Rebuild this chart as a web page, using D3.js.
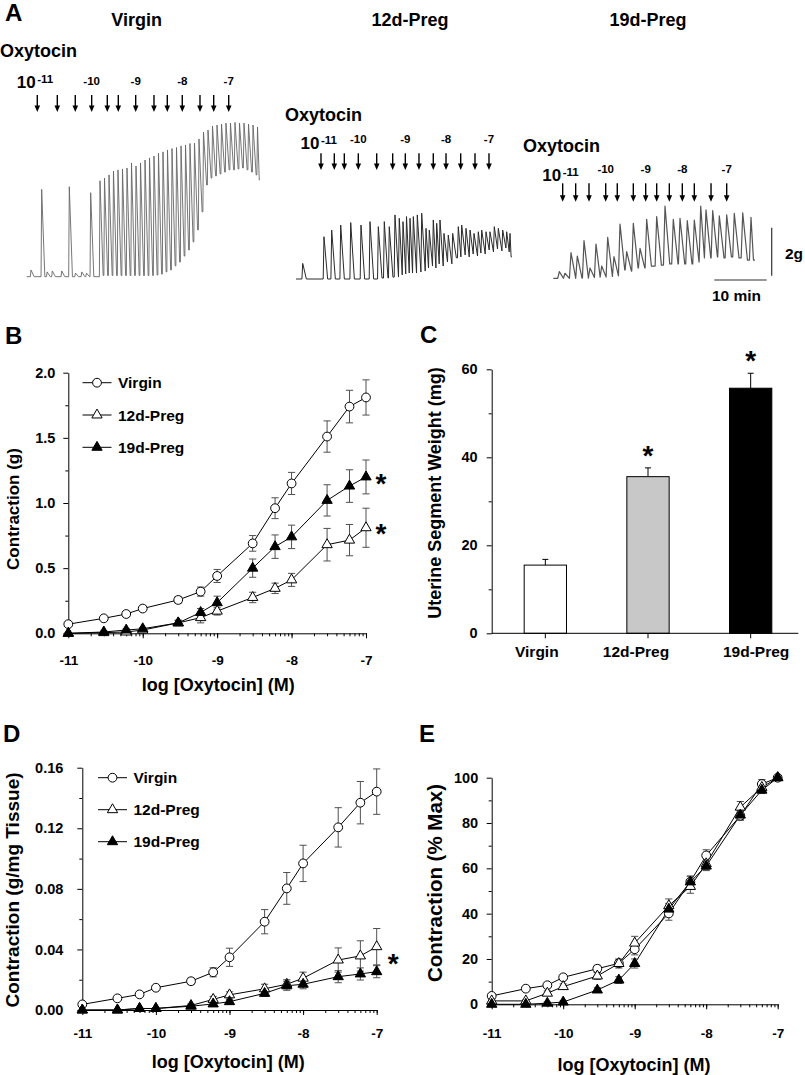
<!DOCTYPE html>
<html><head><meta charset="utf-8">
<script src="https://cdn.jsdelivr.net/npm/d3@7"></script>
<style>
body{margin:0;background:#fff}
text{font-family:"Liberation Sans",Arial,Helvetica,sans-serif;font-weight:bold}
</style>
</head><body>
<svg id="fig" width="805" height="1075" xmlns="http://www.w3.org/2000/svg"></svg>
<script>
// ================= DATA =================
// Oxytocin concentrations (M)
const concentrations = [1e-11, 3e-11, 6e-11, 1e-10, 3e-10, 6e-10, 1e-9, 3e-9, 6e-9, 1e-8, 3e-8, 6e-8, 1e-7];
const xMajorTicks = [1e-11, 1e-10, 1e-9, 1e-8, 1e-7];
const xTickLabels = ["-11", "-10", "-9", "-8", "-7"];
const seriesNames = ["Virgin", "12d-Preg", "19d-Preg"];

// Panel B: contraction (g)
const bVirgin    = [0.07, 0.115, 0.148, 0.19, 0.256, 0.32, 0.44, 0.69, 0.96, 1.15, 1.51, 1.74, 1.81];
const bVirginErr = [0.01, 0.015, 0.02, 0.02, 0.025, 0.035, 0.05, 0.06, 0.08, 0.085, 0.12, 0.125, 0.135];
const b12d       = [0.0, 0.005, 0.01, 0.025, 0.08, 0.12, 0.17, 0.275, 0.345, 0.41, 0.68, 0.715, 0.81];
const b12dErr    = [0.005, 0.005, 0.01, 0.01, 0.02, 0.04, 0.03, 0.04, 0.04, 0.05, 0.125, 0.12, 0.15];
const b19d       = [0.0, 0.01, 0.025, 0.035, 0.08, 0.16, 0.235, 0.50, 0.665, 0.74, 1.02, 1.13, 1.20];
const b19dErr    = [0.005, 0.01, 0.01, 0.01, 0.02, 0.03, 0.05, 0.07, 0.09, 0.09, 0.12, 0.125, 0.13];
const bYTicks = [0, 0.5, 1.0, 1.5, 2.0];
const bYTickLabels = ["0.0", "0.5", "1.0", "1.5", "2.0"];
const bYMinor = [0.25, 0.75, 1.25, 1.75];

// Panel C: uterine segment weight (mg)
const cCategories = ["Virgin", "12d-Preg", "19d-Preg"];
const cWeights = [15.5, 35.6, 55.7];
const cWeightErr = [1.3, 2.0, 3.4];
const cYTicks = [0, 20, 40, 60];
const cYTickLabels = ["0", "20", "40", "60"];
const cYMinor = [10, 30, 50];
const cSignificant = [false, true, true];

// Panel D: contraction (g/mg tissue)
const dVirgin    = [0.0037, 0.0077, 0.0103, 0.0147, 0.019, 0.0249, 0.0348, 0.0583, 0.0803, 0.0968, 0.1206, 0.1369, 0.1442];
const dVirginErr = [0.001, 0.001, 0.0015, 0.0015, 0.002, 0.003, 0.006, 0.008, 0.0105, 0.012, 0.013, 0.014, 0.015];
const d12d       = [0.0, 0.0, 0.001, 0.001, 0.003, 0.007, 0.010, 0.014, 0.017, 0.021, 0.033, 0.0357, 0.0418];
const d12dErr    = [0, 0, 0.0005, 0.0005, 0.001, 0.002, 0.002, 0.003, 0.003, 0.004, 0.008, 0.010, 0.012];
const d19d       = [0, 0, 0.001, 0.001, 0.0025, 0.004, 0.0055, 0.011, 0.016, 0.017, 0.022, 0.0238, 0.0253];
const d19dErr    = [0, 0, 0.0005, 0.0005, 0.001, 0.001, 0.0015, 0.002, 0.003, 0.003, 0.004, 0.004, 0.004];
const dYTicks = [0, 0.04, 0.08, 0.12, 0.16];
const dYTickLabels = ["0.00", "0.04", "0.08", "0.12", "0.16"];
const dYMinor = [0.02, 0.06, 0.10, 0.14];

// Panel E: contraction (% max)
const eVirgin    = [3.7, 6.9, 8.4, 11.9, 15.7, 18.1, 24.3, 40.1, 54.1, 65.7, 83.2, 97.2, 100];
const eVirginErr = [0.8, 1, 1, 1.2, 1.5, 1.5, 2.5, 3, 2.5, 2.5, 2, 2, 0];
const e12d       = [1.5, 1.5, 4.9, 7.8, 12.5, 18, 27, 43.5, 52, 62, 87, 95.7, 100];
const e12dErr    = [0.5, 0.5, 1, 1.2, 1.5, 2, 3, 3, 3, 2.5, 2.5, 2, 0];
const e19d       = [0, 0, 0.5, 1, 6.3, 10.7, 18, 42, 54, 61, 83.5, 94.5, 100];
const e19dErr    = [0, 0, 0.5, 0.5, 1, 1.5, 2, 2.5, 2.5, 2, 2, 1.5, 0];
const eYTicks = [0, 20, 40, 60, 80, 100];
const eYTickLabels = ["0", "20", "40", "60", "80", "100"];
const eYMinor = [10, 30, 50, 70, 90];

// Panel A: recordings. times (min from trace start), peak tension (g), trough tension (g)
const virginT    = [0.82, 2.86, 3.9, 4.89, 6.68, 8.13, 9.3, 10.5, 11.4, 12.21, 13.99, 14.85, 15.71, 16.56, 17.42, 18.28, 19.14, 20.0, 20.86, 21.72, 22.58, 23.44, 24.29, 25.15, 26.01, 26.87, 27.73, 28.59, 29.45, 30.31, 31.16, 32.02, 32.88, 33.74, 34.6, 35.46, 36.32, 37.18, 38.03, 38.89, 39.75, 40.61, 41.47, 42.33, 43.19, 44.05];
const virginPeak = [0.28, 3.64, 0.2, 0.24, 0.24, 3.75, 0.15, 0.2, 0.15, 3.5, 4.0, 4.11, 4.24, 4.4, 4.45, 4.49, 4.53, 4.74, 4.61, 4.74, 4.86, 4.95, 5.03, 5.15, 5.2, 5.28, 5.34, 5.38, 5.45, 5.49, 5.55, 5.57, 5.74, 6.03, 6.11, 6.28, 6.32, 6.36, 6.4, 6.4, 6.43, 6.4, 6.4, 6.36, 6.32, 6.24];
const virginBase = [0, 0, 0, 0, 0, 0, 0, 0, 0, 0, 0.05, 0.05, 0.05, 0.05, 0.05, 0.05, 0.05, 0.05, 0.05, 0.05, 0.05, 0.05, 0.07, 0.11, 0.2, 0.28, 0.45, 0.61, 0.86, 1.11, 1.45, 1.95, 2.7, 3.82, 4.11, 4.2, 4.28, 4.36, 4.45, 4.45, 4.49, 4.53, 4.45, 4.36, 4.24, 4.03];
const virginEnd = 44.5;
const virginArrows = [2.02, 5.84, 9.27, 12.4, 15.38, 17.48, 20.8, 24.29, 26.83, 29.69, 33.07, 35.69, 38.55];

const preg12T    = [1.28, 5.34, 6.81, 8.53, 10.44, 12.4, 14.12, 15.71, 16.85, 17.8, 18.89, 19.71, 20.42, 21.09, 21.76, 22.39, 23.15, 23.99, 24.81, 25.44, 26.2, 26.85, 27.48, 28.24, 29.06, 29.9, 30.97, 31.62, 32.44, 33.21, 33.97, 34.79, 35.44, 36.26, 37.02, 37.84, 38.61, 39.45, 40.21, 40.84];
const preg12Peak = [0.65, 1.76, 2.04, 2.25, 2.35, 2.25, 2.39, 2.18, 2.39, 2.18, 2.67, 2.53, 2.39, 2.6, 2.53, 2.6, 2.67, 2.74, 2.11, 2.04, 2.46, 2.32, 2.46, 1.9, 1.83, 1.9, 2.18, 2.25, 2.11, 2.04, 1.9, 1.97, 2.04, 1.97, 1.97, 2.18, 2.11, 2.04, 1.97, 1.9];
const preg12Base = [0, 0, 0, 0, 0, 0, 0, 0.04, 0.04, 0.08, 0.08, 0.17, 0.21, 0.25, 0.25, 0.25, 0.29, 0.33, 0.46, 0.54, 0.46, 0.63, 0.54, 0.71, 0.63, 0.88, 0.92, 1.0, 0.92, 1.04, 0.96, 1.08, 1.04, 1.21, 1.13, 1.25, 1.17, 1.29, 1.13, 0.92];
const preg12End = 41.2;
const preg12Arrows = [4.77, 7.31, 9.22, 11.89, 15.4, 18.45, 20.86, 23.47, 26.2, 28.63, 31.43, 34.16, 36.83];

const preg19T    = [1.15, 2.23, 3.38, 4.58, 5.86, 7.0, 8.15, 9.24, 10.38, 11.58, 12.73, 14.01, 15.27, 16.55, 17.82, 19.73, 21.32, 22.9, 24.18, 25.57, 26.91, 28.13, 29.14, 30.42, 31.68, 33.09, 34.54, 36.15, 37.73];
const preg19Peak = [0.28, 0.21, 1.07, 0.93, 1.57, 0.43, 1.43, 0.51, 1.71, 0.9, 2.26, 1.11, 2.29, 1.25, 2.46, 2.57, 3.01, 2.46, 2.5, 2.4, 2.43, 3.01, 2.85, 2.82, 2.6, 2.64, 2.71, 2.73, 2.54];
const preg19Base = [0, 0, 0, 0.01, 0.01, 0.03, 0.05, 0.05, 0.08, 0.1, 0.35, 0.3, 0.43, 0.43, 0.51, 0.55, 0.6, 0.6, 0.6, 0.6, 0.68, 0.85, 0.85, 0.89, 0.85, 0.89, 0.85, 0.76, 0.76];
const preg19End = 38.5;
const preg19Arrows = [1.79, 4.27, 6.81, 10.0, 12.21, 15.27, 17.63, 19.73, 22.14, 24.62, 26.91, 30.1, 33.09];

const doseLabels = ["-10", "-9", "-8", "-7"];
const doseLabelArrowIndex = [3, 6, 9, 12];
const scaleBarGrams = 2;
const scaleBarMinutes = 10;

// ================= DRAWING =================
const svg = d3.select("#fig");
const FONT = '"Liberation Sans", Arial, Helvetica, sans-serif';
const markerTypes = ["circle", "triOpen", "triFill"];

function txt(x, y, s, size, anchor) {
  return svg.append("text").attr("x", x).attr("y", y).attr("font-size", size)
    .attr("font-family", FONT).attr("font-weight", "bold")
    .attr("text-anchor", anchor || "start").text(s);
}
function vtxt(x, y, s, size) {
  return svg.append("text").attr("transform", `translate(${x},${y}) rotate(-90)`)
    .attr("font-size", size).attr("font-family", FONT).attr("font-weight", "bold")
    .attr("text-anchor", "middle").text(s);
}
function styleAxis(a, size) {
  a.attr("font-size", size).attr("font-family", FONT).attr("font-weight", "bold");
  a.selectAll("line,path").attr("stroke", "#000").attr("stroke-width", 1);
  a.selectAll("text").attr("fill", "#000");
}
function drawMarker(g, type, cx, cy) {
  if (type === "circle") {
    g.append("circle").attr("cx", cx).attr("cy", cy).attr("r", 4.4)
      .attr("fill", "#fff").attr("stroke", "#000").attr("stroke-width", 1);
  } else {
    g.append("path").attr("d", d3.symbol(d3.symbolTriangle, 46)())
      .attr("transform", `translate(${cx},${cy})`)
      .attr("fill", type === "triFill" ? "#000" : "#fff")
      .attr("stroke", "#000").attr("stroke-width", 1);
  }
}
function asterisk(cx, cy) {
  txt(cx, cy + 15, "*", 28, "middle");
}

// Panel letters
txt(5, 21, "A", 24);
txt(5, 344, "B", 24);
txt(420, 343, "C", 24);
txt(3, 742, "D", 24);
txt(419, 742, "E", 24);

// ---------- Panel A ----------
const PX_PER_MIN = 5.24, PX_PER_G = 24;
function drawTrace(cfg) {
  const xs = d3.scaleLinear().domain([0, 10]).range([cfg.x0, cfg.x0 + 10 * PX_PER_MIN]);
  const ys = d3.scaleLinear().domain([0, 2]).range([cfg.y0, cfg.y0 - 2 * PX_PER_G]);
  const t = cfg.t, pk = cfg.peak, bs = cfg.base;
  const pts = [[0, bs[0]]];
  for (let i = 0; i < t.length; i++) {
    const prev = i === 0 ? bs[0] : bs[i - 1];
    const next = i < t.length - 1 ? t[i + 1] : cfg.end;
    pts.push([t[i] - cfg.rise, prev]);
    pts.push([t[i], pk[i]]);
    pts.push([Math.min(t[i] + cfg.decay, next - cfg.rise), bs[i]]);
  }
  pts.push([cfg.end, bs[bs.length - 1]]);
  svg.append("path")
    .attr("d", d3.line().x(d => xs(d[0])).y(d => ys(d[1]))(pts))
    .attr("fill", "none").attr("stroke", cfg.color).attr("stroke-width", cfg.width)
    .attr("stroke-linejoin", "round");

  cfg.arrows.forEach(a => {
    const ax = xs(a);
    svg.append("line").attr("x1", ax).attr("x2", ax).attr("y1", cfg.arrowTop).attr("y2", cfg.arrowBot - 5)
      .attr("stroke", "#000").attr("stroke-width", 1.4);
    svg.append("path").attr("d", `M${ax - 2.8},${cfg.arrowBot - 6.5}L${ax + 2.8},${cfg.arrowBot - 6.5}L${ax},${cfg.arrowBot}Z`)
      .attr("fill", "#000");
  });
  const a0 = xs(cfg.arrows[0]);
  txt(a0 - 1.5, cfg.tenBase, "10", 17, "end");
  txt(a0, cfg.tenBase - 5, "-11", 11.5, "start");
  doseLabels.forEach((lab, i) => {
    txt(xs(cfg.arrows[doseLabelArrowIndex[i]]), cfg.arrowTop - 10.5, lab, 11.5, "middle");
  });
  txt(cfg.oxyX, cfg.oxyY, "Oxytocin", 18, "start");
}

txt(136.7, 25.5, "Virgin", 18, "middle");
txt(410, 25.5, "12d-Preg", 18, "middle");
txt(648, 25.5, "19d-Preg", 18, "middle");

drawTrace({t: virginT, peak: virginPeak, base: virginBase, end: virginEnd, arrows: virginArrows,
  x0: 26.7, y0: 276.7, rise: 0.12, decay: 0.6, color: "#666", width: 0.9,
  arrowTop: 95, arrowBot: 112, oxyX: 0, oxyY: 57, tenBase: 88});
drawTrace({t: preg12T, peak: preg12Peak, base: preg12Base, end: preg12End, arrows: preg12Arrows,
  x0: 296, y0: 279, rise: 0.15, decay: 0.7, color: "#2a2a2a", width: 1,
  arrowTop: 153.3, arrowBot: 170, oxyX: 285, oxyY: 120.5, tenBase: 149.3});
drawTrace({t: preg19T, peak: preg19Peak, base: preg19Base, end: preg19End, arrows: preg19Arrows,
  x0: 553.3, y0: 278.3, rise: 0.3, decay: 0.9, color: "#555", width: 1.2,
  arrowTop: 183.3, arrowBot: 201.7, oxyX: 523, oxyY: 152, tenBase: 181});

// Scale bars
const barX = 771.7, barBottom = 275.7;
svg.append("line").attr("x1", barX).attr("x2", barX)
  .attr("y1", barBottom).attr("y2", barBottom - scaleBarGrams * PX_PER_G)
  .attr("stroke", "#333").attr("stroke-width", 1.2);
const hbX0 = 714.3, hbY = 280;
svg.append("line").attr("x1", hbX0).attr("x2", hbX0 + scaleBarMinutes * PX_PER_MIN)
  .attr("y1", hbY).attr("y2", hbY).attr("stroke", "#333").attr("stroke-width", 1.2);
txt(785, 259, scaleBarGrams + "g", 15.5, "start");
txt(736.5, 301, scaleBarMinutes + " min", 15.5, "middle");

// ---------- Log dose-response panels ----------
function drawLogPanel(p) {
  const x = d3.scaleLog().domain([concentrations[0], concentrations[concentrations.length - 1]]).range([p.x0, p.x1]);
  const y = d3.scaleLinear().domain([0, p.yTicks[p.yTicks.length - 1]]).range([p.yBottom, p.yTop]);
  const g = svg.append("g");
  const ax1 = g.append("g").attr("transform", `translate(0,${p.yBottom})`)
    .call(d3.axisBottom(x).tickValues(x.ticks()).tickSize(3).tickSizeOuter(0).tickFormat(""));
  ax1.select(".domain").remove(); styleAxis(ax1, 13.5);
  const ax2 = g.append("g").attr("transform", `translate(0,${p.yBottom})`)
    .call(d3.axisBottom(x).tickValues(xMajorTicks).tickSize(5).tickSizeOuter(0)
      .tickPadding(p.xPad).tickFormat((d, i) => xTickLabels[i]));
  styleAxis(ax2, 13.5);
  const ay1 = g.append("g").attr("transform", `translate(${p.x0},0)`)
    .call(d3.axisLeft(y).tickValues(p.yMinor).tickSize(3).tickFormat(""));
  ay1.select(".domain").remove(); styleAxis(ay1, 14.5);
  const ay2 = g.append("g").attr("transform", `translate(${p.x0},0)`)
    .call(d3.axisLeft(y).tickValues(p.yTicks).tickSize(5).tickSizeOuter(0)
      .tickPadding(p.yPad).tickFormat((d, i) => p.yTickLabels[i]));
  styleAxis(ay2, 14.5);

  const line = d3.line().x((d, i) => x(concentrations[i])).y(d => y(d));
  p.series.forEach(s => {
    g.append("path").datum(s.v).attr("d", line).attr("fill", "none")
      .attr("stroke", "#000").attr("stroke-width", 1);
  });
  p.series.forEach(s => {
    s.v.forEach((v, i) => {
      const e = s.e[i]; if (!e) return;
      const cx = x(concentrations[i]);
      const eb = g.append("g").attr("stroke", "#505050").attr("stroke-width", 1);
      eb.append("line").attr("x1", cx).attr("x2", cx).attr("y1", y(v - e)).attr("y2", y(v + e));
      eb.append("line").attr("x1", cx - 3.6).attr("x2", cx + 3.6).attr("y1", y(v + e)).attr("y2", y(v + e));
      eb.append("line").attr("x1", cx - 3.6).attr("x2", cx + 3.6).attr("y1", y(v - e)).attr("y2", y(v - e));
    });
  });
  p.series.forEach(s => {
    s.v.forEach((v, i) => drawMarker(g, s.m, x(concentrations[i]), y(v)));
  });
  if (p.legend) {
    seriesNames.forEach((n, i) => {
      const ly = p.legend.y + i * p.legend.dy;
      g.append("line").attr("x1", p.legend.x - 14.5).attr("x2", p.legend.x + 14.5)
        .attr("y1", ly).attr("y2", ly).attr("stroke", "#000");
      drawMarker(g, markerTypes[i], p.legend.x, ly);
      txt(p.legend.x + 21, ly + 5.5, n, 15.5, "start");
    });
  }
  txt(p.xTitleX, p.xTitleY, "log [Oxytocin] (M)", 18, "middle");
  vtxt(p.yTitleX, p.yTitleY, p.yTitle, p.yTitleSize);
}

// Panel B
drawLogPanel({x0: 68.3, x1: 366, yBottom: 633.3, yTop: 372.7,
  yTicks: bYTicks, yTickLabels: bYTickLabels, yMinor: bYMinor, xPad: 17, yPad: 8,
  series: [{v: bVirgin, e: bVirginErr, m: "circle"}, {v: b12d, e: b12dErr, m: "triOpen"}, {v: b19d, e: b19dErr, m: "triFill"}],
  legend: {x: 97, y: 382.7, dy: 32.3},
  xTitleX: 218.3, xTitleY: 691, yTitleX: 18.5, yTitleY: 509, yTitle: "Contraction (g)", yTitleSize: 17});
asterisk(381, 477.7);
asterisk(381, 527.7);

// Panel D
drawLogPanel({x0: 82.3, x1: 376.7, yBottom: 1010, yTop: 767.7,
  yTicks: dYTicks, yTickLabels: dYTickLabels, yMinor: dYMinor, xPad: 13.5, yPad: 14,
  series: [{v: dVirgin, e: dVirginErr, m: "circle"}, {v: d12d, e: d12dErr, m: "triOpen"}, {v: d19d, e: d19dErr, m: "triFill"}],
  legend: {x: 112.5, y: 777.7, dy: 32},
  xTitleX: 228.3, xTitleY: 1068, yTitleX: 18.5, yTitleY: 890, yTitle: "Contraction (g/mg Tissue)", yTitleSize: 19});
asterisk(393.3, 958.3);

// Panel E
drawLogPanel({x0: 491.7, x1: 777.7, yBottom: 1004.3, yTop: 777.7,
  yTicks: eYTicks, yTickLabels: eYTickLabels, yMinor: eYMinor, xPad: 19, yPad: 8.5,
  series: [{v: eVirgin, e: eVirginErr, m: "circle"}, {v: e12d, e: e12dErr, m: "triOpen"}, {v: e19d, e: e19dErr, m: "triFill"}],
  legend: null,
  xTitleX: 634, xTitleY: 1071, yTitleX: 442, yTitleY: 883, yTitle: "Contraction (% Max)", yTitleSize: 20.5});

// ---------- Panel C ----------
(function () {
  const x = d3.scalePoint().domain(cCategories).range([494, 802]).padding(0.5);
  const y = d3.scaleLinear().domain([0, 60]).range([633.3, 369.3]);
  const g = svg.append("g");
  const barW = 42.3;
  const fills = ["#fff", "#c8c8c8", "#000"];
  const labelDx = [-8.5, -12, 5.5];
  cCategories.forEach((c, i) => {
    const cx = x(c);
    const top = y(cWeights[i] + cWeightErr[i]);
    g.append("line").attr("x1", cx).attr("x2", cx).attr("y1", y(cWeights[i])).attr("y2", top)
      .attr("stroke", "#000").attr("stroke-width", 1);
    g.append("line").attr("x1", cx - 3).attr("x2", cx + 3).attr("y1", top).attr("y2", top)
      .attr("stroke", "#000").attr("stroke-width", 1);
    g.append("rect").attr("x", cx - barW / 2).attr("y", y(cWeights[i]))
      .attr("width", barW).attr("height", y(0) - y(cWeights[i]))
      .attr("fill", fills[i]).attr("stroke", "#000").attr("stroke-width", 1);
    g.append("line").attr("x1", cx).attr("x2", cx).attr("y1", y(0)).attr("y2", y(0) + 5).attr("stroke", "#000");
    txt(cx + labelDx[i], 657, c, 15.5, "middle");
    if (cSignificant[i]) asterisk(cx, y(cWeights[i] + cWeightErr[i]) - 18);
  });
  g.append("line").attr("x1", 491.7).attr("x2", 798.3).attr("y1", y(0)).attr("y2", y(0)).attr("stroke", "#000");
  const ay1 = g.append("g").attr("transform", "translate(491.7,0)")
    .call(d3.axisLeft(y).tickValues(cYMinor).tickSize(3).tickFormat(""));
  ay1.select(".domain").remove(); styleAxis(ay1, 14.5);
  const ay2 = g.append("g").attr("transform", "translate(491.7,0)")
    .call(d3.axisLeft(y).tickValues(cYTicks).tickSize(5).tickSizeOuter(0).tickPadding(9)
      .tickFormat((d, i) => cYTickLabels[i]));
  styleAxis(ay2, 14.5);
  vtxt(441, 493, "Uterine Segment Weight (mg)", 18);
})();
</script>
</body></html>
